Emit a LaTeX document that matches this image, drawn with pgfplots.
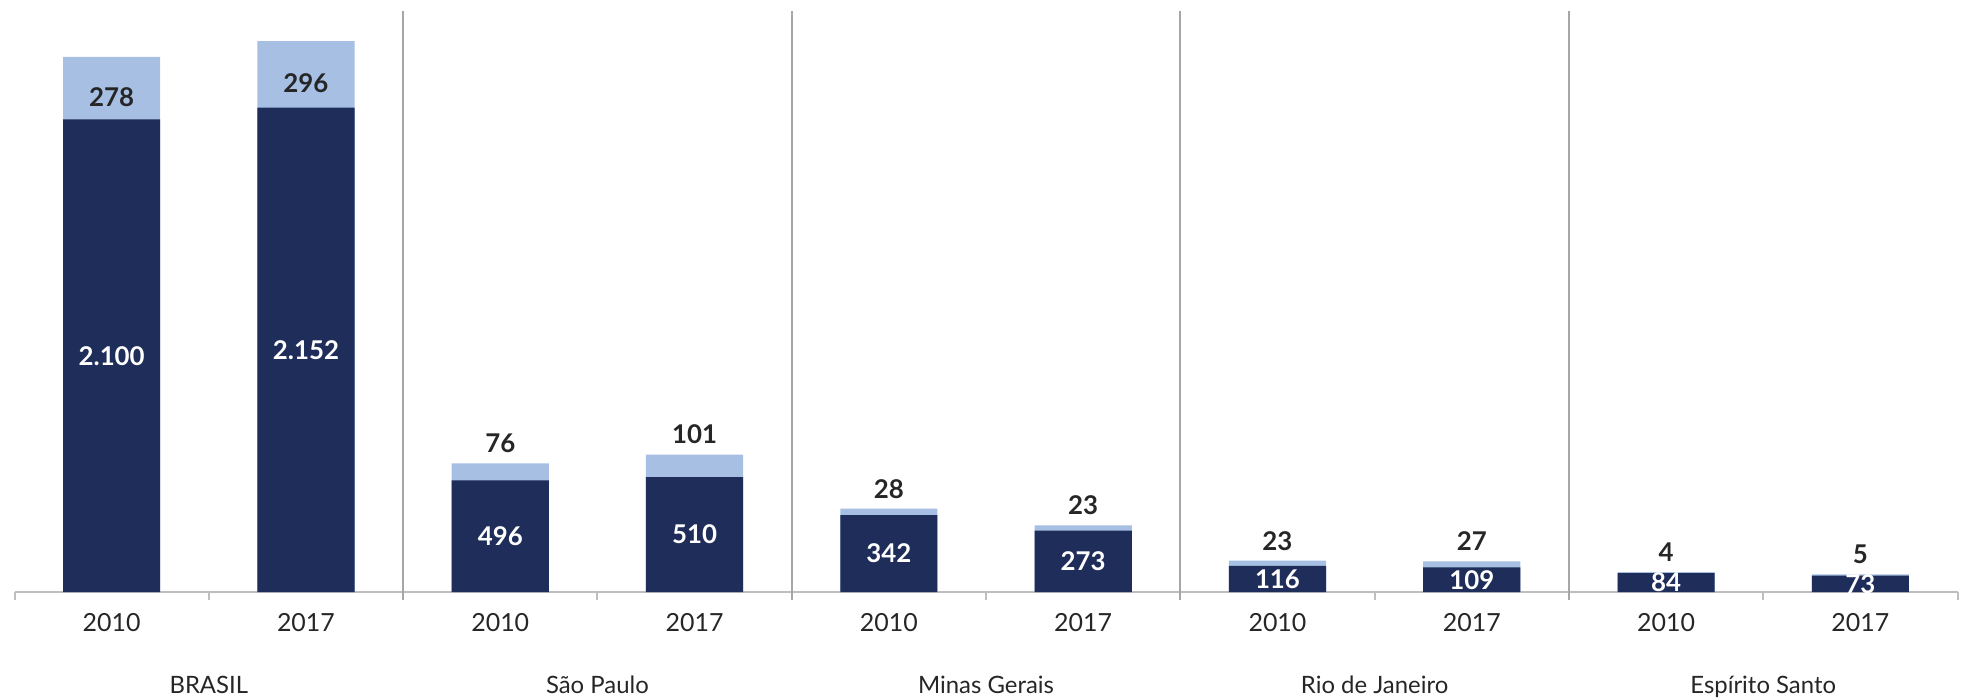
\documentclass[border=0pt]{standalone}
\usepackage{fontspec}
\setmainfont{Lato}
\usepackage{pgfplots}
\usepackage{pgfplotstable}
\pgfplotsset{compat=1.18}

\definecolor{navy}{RGB}{30,45,90}
\definecolor{lightblue}{RGB}{166,191,227}
\definecolor{sepgray}{RGB}{166,166,166}
\definecolor{axgray}{RGB}{190,190,190}
\definecolor{txt}{RGB}{38,38,38}

% x = slot centre, dark = lower series, light = upper series
\pgfplotstableread{
x    dark  light
0.5  2100  278
1.5  2152  296
2.5  496   76
3.5  510   101
4.5  342   28
5.5  273   23
6.5  116   23
7.5  109   27
8.5  84    4
9.5  73    5
}\data

\begin{document}
\begin{tikzpicture}
\begin{axis}[
    scale only axis,
    width=194.3mm, height=58.1mm,
    xmin=0, xmax=10, ymin=0, ymax=2582,
    clip=false,
    axis x line*=bottom, axis y line=none,
    x axis line style={draw=axgray, line width=0.2mm},
    tick align=outside,
    xtick={0.5,1.5,2.5,3.5,4.5,5.5,6.5,7.5,8.5,9.5},
    xticklabels={2010,2017,2010,2017,2010,2017,2010,2017,2010,2017},
    major tick length=0pt,
    minor xtick={0,1,3,5,7,9,10},
    minor tick length=0.75mm,
    minor tick style={draw=axgray, line width=0.2mm},
    extra x ticks={2,4,6,8},
    extra x tick labels={},
    extra x tick style={grid=major, major tick length=0.75mm,
        tick style={draw=sepgray, line width=0.2mm},
        major grid style={draw=sepgray, line width=0.2mm}},
    xticklabel style={font=\fontsize{7.1}{8}\selectfont, text=txt,
        anchor=base, yshift=-3.9mm},
    /pgf/number format/.cd, 1000 sep={.}, assume math mode=true,
]
% light series drawn as full stack, dark series on top of it
\addplot[ybar, bar width=0.5, bar shift=0pt, fill=lightblue, draw=none]
    table[x=x, y expr=\thisrow{dark}+\thisrow{light}] {\data};
\addplot[ybar, bar width=0.5, bar shift=0pt, fill=navy, draw=none]
    table[x=x, y=dark] {\data};

% value labels
\addplot[draw=none, mark=none, nodes near coords, nodes near coords align={center},
    point meta=explicit,
    every node near coord/.append style={font=\fontsize{7.35}{8}\selectfont\bfseries, text=white}]
    table[x=x, y expr=\thisrow{dark}/2, meta=dark] {\data};
\addplot[draw=none, mark=none, nodes near coords, nodes near coords align={center},
    point meta=explicit, restrict x to domain=0:2,
    every node near coord/.append style={font=\fontsize{7.35}{8}\selectfont\bfseries, text=txt, yshift=-0.85mm}]
    table[x=x, y expr=\thisrow{dark}+\thisrow{light}/2, meta=light] {\data};
\addplot[draw=none, mark=none, nodes near coords, nodes near coords align={center},
    point meta=explicit, restrict x to domain=2:10,
    every node near coord/.append style={font=\fontsize{7.35}{8}\selectfont\bfseries, text=txt, yshift=2.0mm}]
    table[x=x, y expr=\thisrow{dark}+\thisrow{light}, meta=light] {\data};

% group names
\node[anchor=base, font=\fontsize{6.8}{8}\selectfont, text=txt, yshift=-10.1mm] at (axis cs:1,0) {BRASIL};
\node[anchor=base, font=\fontsize{6.8}{8}\selectfont, text=txt, yshift=-10.1mm] at (axis cs:3,0) {São Paulo};
\node[anchor=base, font=\fontsize{6.8}{8}\selectfont, text=txt, yshift=-10.1mm] at (axis cs:5,0) {Minas Gerais};
\node[anchor=base, font=\fontsize{6.8}{8}\selectfont, text=txt, yshift=-10.1mm] at (axis cs:7,0) {Rio de Janeiro};
\node[anchor=base, font=\fontsize{6.8}{8}\selectfont, text=txt, yshift=-10.1mm] at (axis cs:9,0) {Espírito Santo};
\end{axis}
\pgfresetboundingbox
\path[use as bounding box] (-1.45mm,-10.7mm) rectangle (194.95mm,59.2mm);
\end{tikzpicture}
\end{document}
